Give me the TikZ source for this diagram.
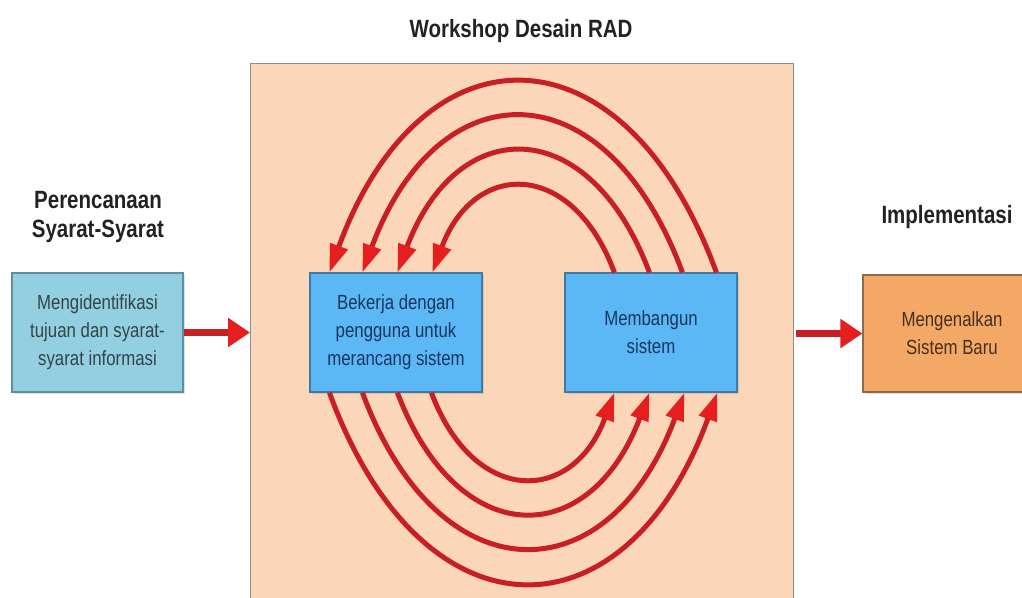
\documentclass[tikz,border=0pt]{standalone}
\usepackage{fontspec}
\setmainfont{Liberation Sans}
\newfontfamily\narrowfont[FakeStretch=0.82]{Liberation Sans}
\usetikzlibrary{arrows.meta,shadows}
\definecolor{peach}{HTML}{FBD6B8}
\definecolor{bordergray}{HTML}{8C8C8C}
\definecolor{aquafill}{HTML}{92CFE0}
\definecolor{aquaborder}{HTML}{5F8E9E}
\definecolor{bluefill}{HTML}{5BB8F5}
\definecolor{blueborder}{HTML}{3F79A6}
\definecolor{orangefill}{HTML}{F4A866}
\definecolor{orangeborder}{HTML}{8C6A4E}
\definecolor{aquatext}{HTML}{34444A}
\definecolor{bluetext}{HTML}{1A365E}
\definecolor{orangetext}{HTML}{44301F}
\definecolor{titletext}{HTML}{222222}
\definecolor{shaftred}{HTML}{C62026}
\definecolor{headred}{HTML}{E51E20}
\definecolor{arcred}{HTML}{C81F24}
\tikzset{
  titlelabel/.style={font=\narrowfont\bfseries\fontsize{25}{30}\selectfont, text=titletext, inner sep=0pt, anchor=base},
  procbox/.style={align=center, inner sep=0pt, line width=1.2pt,
    font=\narrowfont\fontsize{20.5}{28}\selectfont,
    drop shadow={shadow xshift=2pt, shadow yshift=-2pt, opacity=0.25}},
  aquabox/.style={procbox, draw=aquaborder, fill=aquafill, text=aquatext, minimum width=171pt, minimum height=119pt},
  bluebox/.style={procbox, draw=blueborder, fill=bluefill, text=bluetext, minimum width=172pt, minimum height=119pt},
  orangebox/.style={procbox, draw=orangeborder, fill=orangefill, text=orangetext, minimum width=178pt, minimum height=117pt},
  radbox/.style={draw=bordergray, fill=peach, line width=1.2pt, inner sep=0pt},
  arcline/.style={draw=arcred, line width=5pt, -{Triangle[length=28pt,width=18pt,color=headred]}},
  bigarrow/.style={draw=shaftred, line width=7pt, -{Triangle[length=22pt,width=28pt,color=headred]}}
}
\begin{document}
\begin{tikzpicture}[x=1pt,y=-1pt]
\clip (0,0) rectangle (1022,597);
\fill[white] (0,0) rectangle (1022,597);

% big workshop area
\node[radbox, minimum width=543pt, minimum height=560pt, anchor=north west] (rad) at (250,63) {};

% titles
\node[titlelabel] (ttl) at (521,37) {Workshop Desain RAD};
\node[titlelabel] (plan1) at (98,208) {Perencanaan};
\node[titlelabel] (plan2) at (98,237) {Syarat-Syarat};
\node[titlelabel] (impl) at (947,223) {Implementasi};

% boxes
\node[aquabox] (ident) at (97.5,332.5) {Mengidentifikasi\\tujuan dan syarat-\\syarat informasi};
\node[bluebox] (bek) at (396,332.5) {Bekerja dengan\\pengguna untuk\\merancang sistem};
\node[bluebox] (mem) at (651,332.5) {Membangun\\sistem};
\node[orangebox] (intro) at (952,333.5) {Mengenalkan\\Sistem Baru};

% horizontal arrows
\draw[bigarrow] (ident.east) -- (rad.west |- ident.east);
\draw[bigarrow] ([xshift=2pt]rad.east |- intro.west) -- (intro.west);

% top arcs: from Membangun back to Bekerja
\draw[arcline] ([xshift=50pt]mem.north west) .. controls +(-42,-113) and +(42,-113) .. ([xshift=123pt]bek.north west);
\draw[arcline] ([xshift=85pt]mem.north west) .. controls +(-60,-160) and +(60,-160) .. ([xshift=88pt]bek.north west);
\draw[arcline] ([xshift=118pt]mem.north west) .. controls +(-76,-206) and +(76,-206) .. ([xshift=53pt]bek.north west);
\draw[arcline] ([xshift=152pt]mem.north west) .. controls +(-92,-252) and +(92,-252) .. ([xshift=20pt]bek.north west);

% bottom arcs: from Bekerja to Membangun
\draw[arcline] ([xshift=122pt]bek.south west) .. controls +(42,113) and +(-42,113) .. ([xshift=50pt]mem.south west);
\draw[arcline] ([xshift=88pt]bek.south west) .. controls +(60,159) and +(-60,159) .. ([xshift=85pt]mem.south west);
\draw[arcline] ([xshift=53pt]bek.south west) .. controls +(76,205) and +(-76,205) .. ([xshift=120pt]mem.south west);
\draw[arcline] ([xshift=20pt]bek.south west) .. controls +(92,252) and +(-92,252) .. ([xshift=153pt]mem.south west);
\end{tikzpicture}
\end{document}
